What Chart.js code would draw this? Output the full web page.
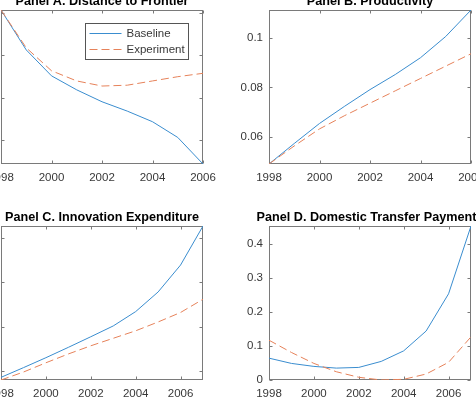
<!DOCTYPE html>
<html>
<head>
<meta charset="utf-8">
<script src="https://cdn.jsdelivr.net/npm/chart.js@4.4.1/dist/chart.umd.min.js"></script>
<style>
    html, body { margin: 0; padding: 0; background: #fff; }
    #figure { position: relative; width: 476px; height: 406px; overflow: hidden; background: #fff; }
    #figure canvas { position: absolute; }
</style>
</head>
<body>
<div id="figure">
    <canvas id="panelA"></canvas>
    <canvas id="panelB"></canvas>
    <canvas id="panelC"></canvas>
    <canvas id="panelD"></canvas>
</div>
<script>
// ---- data ----
const years = [1998, 1999, 2000, 2001, 2002, 2003, 2004, 2005, 2006];
const yearsLong = [1998, 1999, 2000, 2001, 2002, 2003, 2004, 2005, 2006, 2007];
const yearTicks = [1998, 2000, 2002, 2004, 2006];

const frontierBaseline   = [0.506, 0.412, 0.351, 0.318, 0.290, 0.268, 0.243, 0.206, 0.1435];
const frontierExperiment = [0.506, 0.417, 0.363, 0.339, 0.327, 0.329, 0.339, 0.349, 0.357];
const frontierTicks = [0.2, 0.3, 0.4, 0.5];

const productivityBaseline   = [0.049, 0.0573, 0.0654, 0.0724, 0.0791, 0.0852, 0.0920, 0.1006, 0.1113];
const productivityExperiment = [0.049, 0.0563, 0.0632, 0.0686, 0.0736, 0.0786, 0.0836, 0.0886, 0.0936];
const productivityTicks = [0.06, 0.08, 0.1];

const innovationBaseline   = [0.0170, 0.0214, 0.0259, 0.0306, 0.0354, 0.0403, 0.0468, 0.0557, 0.0679, 0.0856];
const innovationExperiment = [0.0158, 0.0194, 0.0236, 0.0276, 0.0313, 0.0347, 0.0381, 0.0421, 0.0464, 0.0524];
const innovationTicks = [0.02, 0.04, 0.06, 0.08];

const transferBaseline   = [0.0643, 0.0488, 0.0400, 0.0350, 0.0370, 0.0547, 0.0857, 0.1440, 0.2535, 0.4530];
const transferExperiment = [0.1170, 0.0810, 0.0488, 0.0243, 0.0080, 0.0000, 0.0020, 0.0175, 0.0520, 0.1270];
const transferTicks = [0, 0.1, 0.2, 0.3, 0.4];

const seriesNames = ['Baseline', 'Experiment'];

// ---- styles ----
const BLUE = '#3a8dcf';
const ORANGE = '#e6825a';
const AXIS = '#7a7a7a';
const TEXT = '#383838';
const FONT = '"Liberation Sans", Arial, sans-serif';
Chart.defaults.font.family = FONT;

// room around the plot box inside each canvas
const PAD_LEFT = 60, PAD_TOP = 30, PAD_RIGHT = 20, PAD_BOTTOM = 30;

// MATLAB-like box, inward ticks, title and legend
const matlabAxes = {
    id: 'matlabAxes',
    beforeDatasetsDraw(chart, args, opts) {
        const { ctx, chartArea: a, scales } = chart;
        const x0 = a.left + 0.5, x1 = a.right - 0.5, y0 = a.top + 0.5, y1 = a.bottom - 0.5;
        ctx.save();
        ctx.strokeStyle = AXIS;
        ctx.lineWidth = 1;
        ctx.beginPath();
        scales.x.ticks.forEach(t => {
            const px = Math.round(scales.x.getPixelForValue(t.value)) + 0.5;
            ctx.moveTo(px, y1); ctx.lineTo(px, y1 - 3);
            ctx.moveTo(px, y0); ctx.lineTo(px, y0 + 3);
        });
        scales.y.ticks.forEach(t => {
            const py = Math.round(scales.y.getPixelForValue(t.value)) + 0.5;
            ctx.moveTo(x0, py); ctx.lineTo(x0 + 3, py);
            ctx.moveTo(x1, py); ctx.lineTo(x1 - 3, py);
        });
        ctx.stroke();
        ctx.strokeRect(x0, y0, x1 - x0, y1 - y0);

        ctx.fillStyle = '#000';
        ctx.font = 'bold 12.65px ' + FONT;
        ctx.textAlign = 'center';
        ctx.textBaseline = 'alphabetic';
        ctx.fillText(opts.title, (a.left + a.right) / 2, a.top - 5);
        ctx.restore();
    },
    afterDatasetsDraw(chart, args, opts) {
        if (!opts.legend) return;
        const { ctx, chartArea: a } = chart;
        const bx = a.left + 84.5, by = a.top + 13.5, bw = 103, bh = 36;
        ctx.save();
        ctx.fillStyle = '#fff';
        ctx.fillRect(bx, by, bw, bh);
        ctx.strokeStyle = '#555';
        ctx.lineWidth = 1;
        ctx.strokeRect(bx, by, bw, bh);
        chart.data.datasets.forEach((ds, i) => {
            const y = by + 10 + i * 16;
            ctx.strokeStyle = ds.borderColor;
            ctx.setLineDash(ds.borderDash || []);
            ctx.beginPath();
            ctx.moveTo(bx + 4, y); ctx.lineTo(bx + 36, y);
            ctx.stroke();
            ctx.setLineDash([]);
            ctx.fillStyle = TEXT;
            ctx.font = '11.5px ' + FONT;
            ctx.textAlign = 'left';
            ctx.textBaseline = 'middle';
            ctx.fillText(ds.label, bx + 41, y + 0.5);
        });
        ctx.restore();
    },
};

function makeDatasets(xs, base, exp) {
    const pts = arr => xs.map((x, i) => ({ x, y: arr[i] }));
    return [
        { label: seriesNames[0], data: pts(base), borderColor: BLUE, borderWidth: 1, pointRadius: 0, tension: 0, order: 1 },
        { label: seriesNames[1], data: pts(exp), borderColor: ORANGE, borderWidth: 1, borderDash: [8, 4], pointRadius: 0, tension: 0, order: 0 },
    ];
}

// box = plot area in page pixels
function makePanel(id, box, title, xs, base, exp, yTicks, showLegend) {
    const canvas = document.getElementById(id);
    canvas.width = box.right - box.left + PAD_LEFT + PAD_RIGHT;
    canvas.height = box.bottom - box.top + PAD_TOP + PAD_BOTTOM;
    canvas.style.left = (box.left - PAD_LEFT) + 'px';
    canvas.style.top = (box.top - PAD_TOP) + 'px';

    const all = base.concat(exp);
    new Chart(canvas.getContext('2d'), {
        type: 'line',
        data: { datasets: makeDatasets(xs, base, exp) },
        options: {
            responsive: false,
            animation: false,
            devicePixelRatio: 1,
            layout: { padding: { top: PAD_TOP, right: PAD_RIGHT, left: 0, bottom: 0 }, autoPadding: false },
            plugins: {
                legend: { display: false },
                tooltip: { enabled: false },
                matlabAxes: { title, legend: showLegend },
            },
            scales: {
                x: {
                    type: 'linear',
                    min: xs[0],
                    max: xs[xs.length - 1],
                    grid: { display: false, drawTicks: false },
                    border: { display: false },
                    ticks: { color: TEXT, font: { size: 11.5 }, padding: 7, maxRotation: 0, autoSkip: false, callback: v => String(v) },
                    afterBuildTicks: s => { s.ticks = yearTicks.map(v => ({ value: v })); },
                    afterFit: s => { s.height = PAD_BOTTOM; },
                },
                y: {
                    type: 'linear',
                    min: Math.min(...all),
                    max: Math.max(...all),
                    grid: { display: false, drawTicks: false },
                    border: { display: false },
                    ticks: { color: TEXT, font: { size: 11.5 }, padding: 6, autoSkip: false, callback: v => String(v) },
                    afterBuildTicks: s => { s.ticks = yTicks.map(v => ({ value: v })); },
                    afterFit: s => { s.width = PAD_LEFT; },
                },
            },
        },
        plugins: [matlabAxes],
    });
}

makePanel('panelA', { left: 1, top: 10, right: 203, bottom: 164 }, 'Panel A. Distance to Frontier',
    years, frontierBaseline, frontierExperiment, frontierTicks, true);
makePanel('panelB', { left: 269, top: 10, right: 471, bottom: 164 }, 'Panel B. Productivity',
    years, productivityBaseline, productivityExperiment, productivityTicks, false);
makePanel('panelC', { left: 1, top: 226, right: 203, bottom: 380 }, 'Panel C. Innovation Expenditure',
    yearsLong, innovationBaseline, innovationExperiment, innovationTicks, false);
makePanel('panelD', { left: 269, top: 226, right: 471, bottom: 380 }, 'Panel D. Domestic Transfer Payments',
    yearsLong, transferBaseline, transferExperiment, transferTicks, false);
</script>
</body>
</html>
